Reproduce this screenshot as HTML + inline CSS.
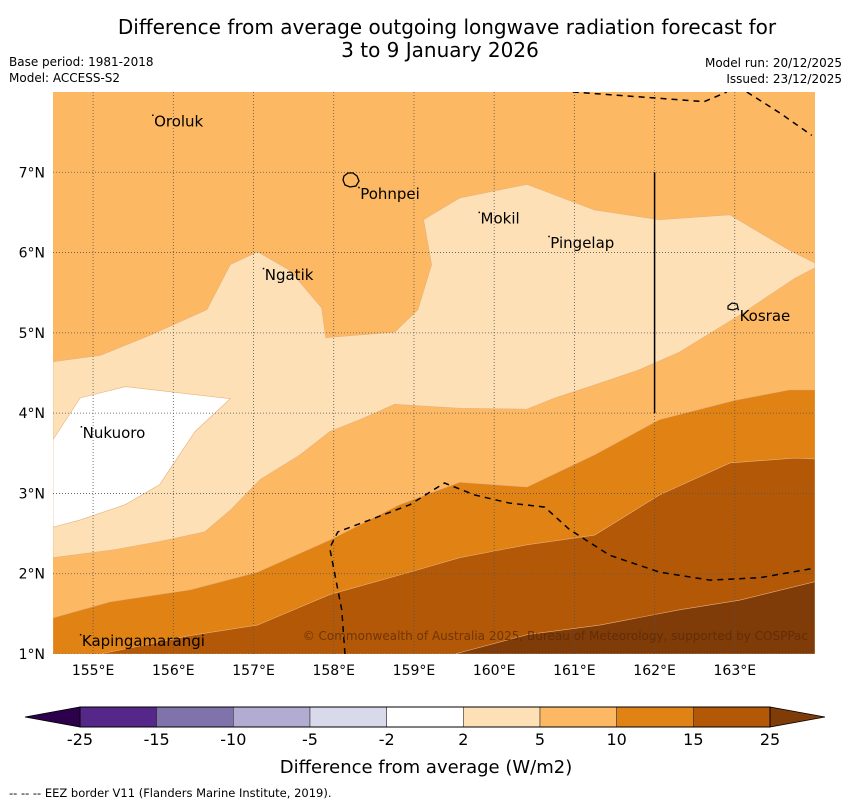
<!DOCTYPE html>
<html><head><meta charset="utf-8">
<style>
html,body{margin:0;padding:0;background:#fff;}
body{width:850px;height:804px;overflow:hidden;font-family:"DejaVu Sans","Liberation Sans",sans-serif;}
svg text{font-family:"DejaVu Sans","Liberation Sans",sans-serif;}
</style></head>
<body>
<svg id="chart" width="850" height="804" viewBox="0 0 850 804" xmlns="http://www.w3.org/2000/svg">
<text x="447" y="34" font-size="20" text-anchor="middle">Difference from average outgoing longwave radiation forecast for</text>
<text x="440" y="57" font-size="20" text-anchor="middle">3 to 9 January 2026</text>
<text x="9" y="66" font-size="12">Base period: 1981-2018</text>
<text x="9" y="82" font-size="12">Model: ACCESS-S2</text>
<text x="842" y="67" font-size="12" text-anchor="end">Model run: 20/12/2025</text>
<text x="842" y="83" font-size="12" text-anchor="end">Issued: 23/12/2025</text>
<g id="map"></g>
<g id="cbar"></g>
<text x="426" y="773" font-size="18" text-anchor="middle">Difference from average (W/m2)</text>
<text x="9" y="797" font-size="11.5">--  --  -- EEZ border V11 (Flanders Marine Institute, 2019).</text>
</svg>
<script>
const lonTicks=[155,156,157,158,159,160,161,162,163];
const latTicks=[1,2,3,4,5,6,7];
const cbTicks=["-25","-15","-10","-5","-2","2","5","10","15","25"];
const cbColors=["#542788","#8073ac","#b2abd2","#d8daeb","#ffffff","#fee0b6","#fdb863","#e08214","#b35806"];
const levelBase="#fdb863";
const lightRegion=[[154.5,4.64],[155.09,4.72],[155.71,4.97],[156.42,5.29],[156.71,5.85],[157.05,6.01],[157.45,5.78],[157.85,5.31],[157.9,4.94],[158.76,5.01],[159.05,5.29],[159.22,5.85],[159.12,6.41],[159.57,6.68],[160.41,6.85],[161.25,6.53],[162.06,6.41],[162.94,6.47],[163.68,6.03],[164.0,5.87],[164.0,5.81],[163.75,5.68],[163.06,5.22],[162.31,4.76],[161.81,4.54],[161.25,4.35],[160.76,4.19],[160.41,4.05],[159.57,4.06],[158.76,4.11],[158.33,3.92],[157.95,3.77],[157.58,3.48],[157.08,3.17],[156.71,2.79],[156.39,2.52],[155.83,2.40],[155.27,2.30],[154.5,2.20]];
const whiteRegion=[[154.5,3.67],[154.84,4.19],[155.4,4.33],[156.71,4.18],[156.27,3.77],[155.83,3.11],[155.4,2.86],[154.84,2.67],[154.5,2.58]];
const darkRegion1=[[154.5,1.45],[155.21,1.65],[156.21,1.80],[157.05,2.02],[157.95,2.42],[158.82,2.86],[159.57,3.14],[160.41,3.08],[161.25,3.48],[162.06,3.92],[163.0,4.16],[163.68,4.29],[164.0,4.29],[164.0,1.0],[154.5,1.0]];
const darkRegion2=[[155.09,1.0],[156.21,1.23],[157.05,1.36],[157.95,1.74],[158.95,2.02],[159.57,2.20],[160.41,2.36],[161.25,2.48],[162.06,2.98],[162.94,3.38],[163.75,3.44],[164.0,3.43],[164.0,1.0]];
const darkRegion3=[[159.51,1.0],[160.41,1.24],[161.32,1.36],[162.31,1.55],[163.06,1.67],[164.0,1.90],[164.0,1.0]];
const eezTop1=[[160.98,8.0],[161.94,7.93],[162.62,7.88],[162.9,8.0]];
const eezTop2=[[163.15,8.0],[163.56,7.74],[163.96,7.46]];
const eezMain=[[158.14,1.0],[158.1,1.55],[157.95,2.32],[158.05,2.52],[158.45,2.67],[158.95,2.86],[159.38,3.13],[159.76,2.98],[160.19,2.88],[160.63,2.83],[160.94,2.55],[161.44,2.23],[162.06,2.02],[162.69,1.92],[163.31,1.95],[164.0,2.07]];
const placeNames=["Oroluk","Pohnpei","Mokil","Pingelap","Ngatik","Kosrae","Nukuoro","Kapingamarangi"];
const placeLon=[155.76,158.33,159.83,160.7,157.14,163.06,154.87,154.86];
const placeLat=[7.57,6.67,6.36,6.06,5.66,5.15,3.69,1.10];

const X0=53,X1=815,Y0=92,Y1=654,LON0=154.5,LON1=164.0,LAT0=1.0,LAT1=8.0;
const xs=lon=>X0+(lon-LON0)/(LON1-LON0)*(X1-X0);
const ys=lat=>Y1-(lat-LAT0)/(LAT1-LAT0)*(Y1-Y0);
const NS="http://www.w3.org/2000/svg";
function mk(tag,attrs,parent){const e=document.createElementNS(NS,tag);for(const k in attrs)e.setAttribute(k,attrs[k]);parent.appendChild(e);return e;}
const map=document.getElementById('map');
const clip=mk('clipPath',{id:'mapclip'},map);
mk('rect',{x:X0,y:Y0,width:X1-X0,height:Y1-Y0},clip);
const bg=mk('rect',{x:X0,y:Y0,width:X1-X0,height:Y1-Y0,fill:levelBase},map);


const g=mk('g',{'clip-path':'url(#mapclip)'},map);
function poly(pts,fill,name){
  const p=mk('polygon',{points:pts.map(q=>xs(q[0])+','+ys(q[1])).join(' '),fill:fill,stroke:'#e8b07a','stroke-width':0.6},g);
  
  
}
poly(lightRegion,"#fee0b6",'contour-2-5');
poly(whiteRegion,"#ffffff",'contour-neutral');
poly(darkRegion1,"#e08214",'contour-10-15');
poly(darkRegion2,"#b35806",'contour-15-25');
poly(darkRegion3,"#7f3b08",'contour-above-25');
lonTicks.forEach(v=>{
  const l=mk('line',{x1:xs(v),x2:xs(v),y1:Y0,y2:Y1,stroke:'#555','stroke-width':0.8,'stroke-dasharray':'1 2'},g);
  
  
  const t=mk('text',{x:xs(v),y:675,'font-size':14,'text-anchor':'middle'},map);
  t.textContent=v+'°E';
  
  
});
latTicks.forEach(v=>{
  const l=mk('line',{x1:X0,x2:X1,y1:ys(v),y2:ys(v),stroke:'#555','stroke-width':0.8,'stroke-dasharray':'1 2'},g);
  
  
  const t=mk('text',{x:45,y:ys(v)+5,'font-size':14,'text-anchor':'end'},map);
  t.textContent=v+'°N';
  
  
});
function dashed(pts,name){
  const p=mk('polyline',{points:pts.map(q=>xs(q[0])+','+ys(q[1])).join(' '),fill:'none',stroke:'#000','stroke-width':1.5,'stroke-dasharray':'6 5'},g);
  
  
}
dashed(eezTop1,'eez-border-north-1');
dashed(eezTop2,'eez-border-north-2');
dashed(eezMain,'eez-border-south');
const vl=mk('line',{x1:xs(162),x2:xs(162),y1:ys(7),y2:ys(4),stroke:'#000','stroke-width':1.5},g);


const pi=mk('path',{d:'M344,176 l4,-3 l5,0 l4,3 l2,5 l-3,5 l-6,1 l-5,-2 l-2,-5 z',fill:'none',stroke:'#000','stroke-width':1.3},g);


const ki=mk('path',{d:'M728,306 l4,-3 l5,1 l1,4 l-5,2 l-5,-1 z',fill:'none',stroke:'#000','stroke-width':1.2},g);


placeNames.forEach((n,i)=>{
  const d=mk('rect',{x:xs(placeLon[i])-2,y:ys(placeLat[i])-12,width:1.5,height:1.5,fill:'#000'},g);
  
  
  const t=mk('text',{x:xs(placeLon[i]),y:ys(placeLat[i]),'font-size':15},g);
  t.textContent=n;
  
  
});
const cp=mk('text',{x:808,y:640,'font-size':12,'text-anchor':'end',fill:'#5a2a05','fill-opacity':0.75},map);
cp.textContent='© Commonwealth of Australia 2025, Bureau of Meteorology, supported by COSPPac';


const cb=document.getElementById('cbar');
const CX0=80,CX1=770,CY=707,CH=20,n=cbColors.length,w=(CX1-CX0)/n;
const lt=mk('polygon',{points:`${CX0},${CY} ${CX0},${CY+CH} 25,${CY+CH/2}`,fill:'#2d004b',stroke:'#000','stroke-width':0.8},cb);


const rt=mk('polygon',{points:`${CX1},${CY} ${CX1},${CY+CH} 825,${CY+CH/2}`,fill:'#7f3b08',stroke:'#000','stroke-width':0.8},cb);


cbColors.forEach((c,i)=>{
  const r=mk('rect',{x:CX0+i*w,y:CY,width:w,height:CH,fill:c,stroke:'#333','stroke-width':0.6},cb);
  
  
});
mk('rect',{x:CX0,y:CY,width:CX1-CX0,height:CH,fill:'none',stroke:'#000','stroke-width':1},cb);
cbTicks.forEach((t,i)=>{
  const e=mk('text',{x:CX0+i*w,y:745,'font-size':16,'text-anchor':'middle'},cb);
  e.textContent=t;
  
  
});
</script>
</body></html>
